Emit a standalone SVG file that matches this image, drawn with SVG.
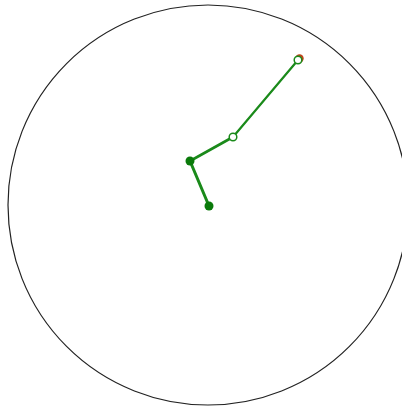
<svg xmlns="http://www.w3.org/2000/svg" width="402" height="408" viewBox="0 0 402 408">
<style>
.arm{stroke:#1a8a1a;fill:none;stroke-linecap:round}
.solid{fill:#0a7a0a}
.open{fill:#fff;stroke:#1a8a1a;stroke-width:1.5}
</style>
<rect width="402" height="408" fill="#fff"/>
<g id="boundary"><circle cx="208" cy="205" r="200" fill="none" stroke="#222" stroke-width="1.2"/></g>
<g id="connectors">
<line class="arm" x1="209" y1="206" x2="190" y2="161" stroke-width="3"/>
<line class="arm" x1="190" y1="161" x2="233" y2="137" stroke-width="2.6"/>
<line class="arm" x1="233" y1="137" x2="298" y2="60" stroke-width="2.2"/>
</g>
<g id="target"><circle cx="299.5" cy="58.5" r="4.2" fill="#c0441a"/></g>
<g id="end"><circle class="solid" cx="209" cy="206" r="4.5"/></g>
<g id="joint1"><circle class="solid" cx="190" cy="161" r="4.5"/></g>
<g id="joint2"><circle class="open" cx="233" cy="137" r="3.8"/></g>
<g id="tip"><circle class="open" cx="298" cy="60" r="3.8"/></g>
</svg>
